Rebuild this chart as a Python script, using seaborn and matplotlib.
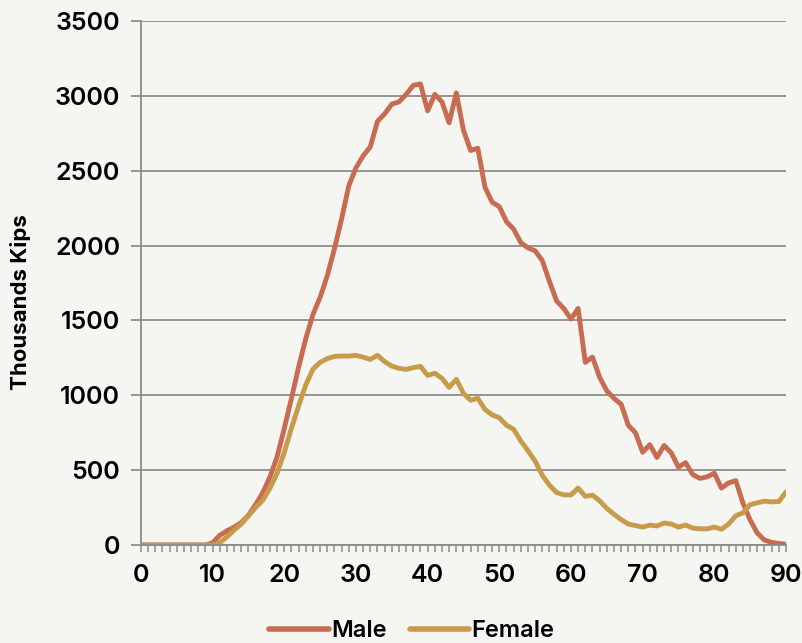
import pandas as pd
import matplotlib as mpl
mpl.use('Agg')
import matplotlib.pyplot as plt
import seaborn as sns
from matplotlib.ticker import MultipleLocator

# ages 0..90
ages = list(range(0, 91))

male = [0, 0, 0, 0, 0, 0, 0, 0, 0, 0,
        15, 65, 95, 120, 150, 200, 270, 350, 455, 590,
        780, 980, 1190, 1380, 1540, 1655, 1800, 1980, 2180, 2400,
        2520, 2600, 2660, 2830, 2880, 2945, 2960, 3010, 3070, 3080,
        2900, 3010, 2960, 2820, 3020, 2770, 2635, 2650, 2390, 2290,
        2260, 2160, 2110, 2020, 1985, 1965, 1900, 1760, 1630, 1580,
        1510, 1580, 1220, 1255, 1120, 1030, 980, 940, 800, 750,
        620, 670, 585, 665, 615, 520, 550, 470, 445, 455,
        480, 380, 415, 430, 280, 167, 80, 33, 18, 10,
        5]

female = [0, 0, 0, 0, 0, 0, 0, 0, 0, 0,
          0, 15, 55, 100, 140, 195, 250, 300, 380, 480,
          620, 780, 930, 1070, 1175, 1220, 1245, 1260, 1262, 1262,
          1267, 1255, 1240, 1267, 1225, 1195, 1180, 1173, 1185, 1193,
          1133, 1147, 1113, 1053, 1107, 1013, 967, 980, 905, 870,
          850, 800, 773, 695, 630, 560, 465, 400, 350, 335,
          335, 380, 325, 333, 295, 245, 205, 170, 140, 130,
          120, 133, 127, 147, 140, 120, 133, 113, 108, 108,
          120, 105, 140, 195, 215, 270, 282, 293, 288, 290,
          353]

series_names = ['Male', 'Female']
series_colors = ['#C86B51', '#C79B4A']

bg = '#F5F5F1'
grid_gray = '#8C8C8C'

rows = []
for name, values in zip(series_names, [male, female]):
    for a, v in zip(ages, values):
        rows.append({'Age': a, 'Value': v, 'Sex': name})
df = pd.DataFrame(rows)

sns.set_theme(style='whitegrid')
plt.rcParams['font.family'] = ['Inter', 'DejaVu Sans']
plt.rcParams['text.color'] = 'black'
plt.rcParams['xtick.color'] = grid_gray
plt.rcParams['ytick.color'] = grid_gray
plt.rcParams['xtick.labelcolor'] = 'black'
plt.rcParams['ytick.labelcolor'] = 'black'
plt.rcParams['axes.labelcolor'] = 'black'

fig = plt.figure(figsize=(8.02, 6.43), dpi=100, facecolor=bg)
ax = fig.add_axes([0.1758, 0.1524, 0.8042, 0.8149])
ax.set_facecolor(bg)

sns.lineplot(data=df, x='Age', y='Value', hue='Sex', palette=series_colors,
             linewidth=3.5, ax=ax, legend=True)

ax.set_xlim(0, 90)
ax.set_ylim(0, 3500)
ax.xaxis.set_major_locator(MultipleLocator(10))
ax.xaxis.set_minor_locator(MultipleLocator(1))
ax.yaxis.set_major_locator(MultipleLocator(500))

ax.grid(axis='x', visible=False)
ax.grid(axis='y', color=grid_gray, linewidth=1.3)
ax.set_axisbelow(True)

for side in ['top', 'right']:
    ax.spines[side].set_visible(False)
for side in ['left', 'bottom']:
    ax.spines[side].set_color(grid_gray)
    ax.spines[side].set_linewidth(1.3)

ax.tick_params(axis='y', which='major', direction='out', length=7, width=1.3,
               left=True, labelsize=18, pad=8)
ax.tick_params(axis='x', which='both', direction='out', length=5, width=1.1,
               bottom=True, labelsize=18, pad=9)
for lab in ax.get_xticklabels() + ax.get_yticklabels():
    lab.set_fontweight('semibold')

ax.set_xlabel('')
ax.set_ylabel('Thousands Kips', fontsize=16, fontweight='bold')
ax.yaxis.set_label_coords(-0.17, 0.464)

leg = ax.legend(loc='center', bbox_to_anchor=(0.42, -0.165), ncol=2, frameon=False,
                handlelength=2.5, handletextpad=0.1, columnspacing=1.0,
                prop={'size': 17, 'weight': 'semibold'})
for line in leg.get_lines():
    line.set_linewidth(4)
    line.set_solid_capstyle('round')

plt.savefig('out.png', dpi=100, facecolor=bg)
